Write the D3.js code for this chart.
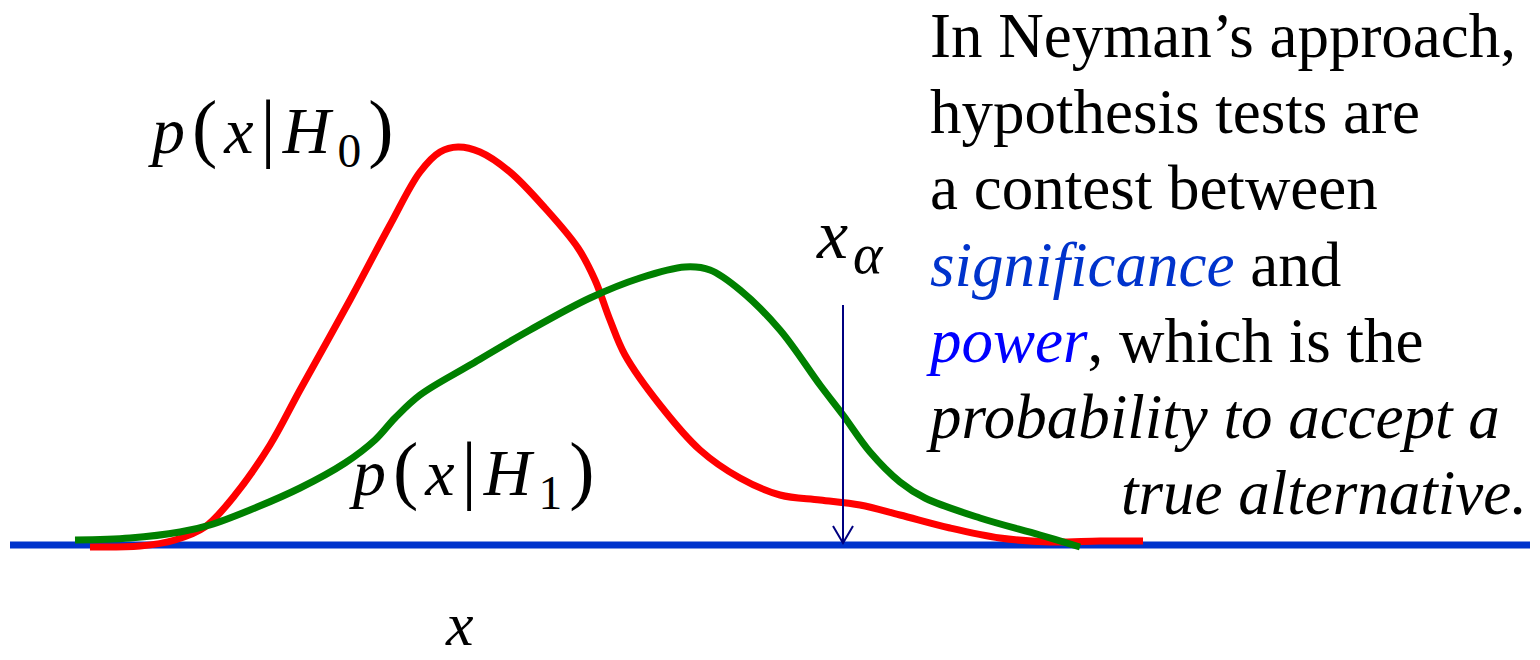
<!DOCTYPE html>
<html>
<head>
<meta charset="utf-8">
<script src="https://cdn.jsdelivr.net/npm/d3@7"></script>
<style>
  body { margin: 0; background: #fff; }
  svg { display: block; }
</style>
</head>
<body>
<svg id="drawing_region"></svg>
<script>
// p(x|H0) and p(x|H1) (x in arbitrary units, density in %)
const h0_x = [8, 13, 16.5, 19.5, 22.5, 26, 29, 34, 38, 41, 43, 44.8, 47, 50, 53.5, 56.8, 58.5, 60, 61.5, 65, 69, 73, 77, 81, 85, 89, 94, 99, 104, 109, 113.3];
const h0_y = [-0.5, -0.25, 1.25, 4.5, 12.5, 25, 38.75, 61.25, 80, 93.25, 98.25, 99.5, 98.25, 93.25, 84.25, 74.25, 66.25, 56.25, 47.5, 35, 23.75, 16.75, 12.5, 11.25, 10, 7.5, 4.25, 1.75, 0.75, 1, 1];

const h1_x = [6.5, 12, 17, 20, 24, 29, 33.5, 36.5, 38.5, 41, 46, 52, 58, 63, 67.5, 70, 73, 77, 81, 83.3, 86, 89, 91.5, 97, 103, 107];
const h1_y = [1.25, 1.75, 3.25, 5, 8.75, 14.25, 20.5, 26.25, 31.75, 37.5, 45, 53.75, 61.75, 66.75, 69.5, 68.75, 63.75, 53.75, 40, 32.5, 23.25, 15.75, 11.75, 6.75, 2.5, -0.5];

const x_domain = [0, 152];
const y_domain = [0, 100];
const x_alpha = 83.3;
const arrow_top = 60;

const paragraph = [
    [{ t: "In Neyman\u2019s approach," }],
    [{ t: "hypothesis tests are" }],
    [{ t: "a contest between" }],
    [{ t: "significance", i: true, c: "#0033cc" }, { t: " and" }],
    [{ t: "power", i: true, c: "#0000ff" }, { t: ", which is the" }],
    [{ t: "probability to accept a", i: true }],
    [{ t: "true alternative.", i: true, right: true }]
];

const config = {
    parent: '#drawing_region',
    width: 1540,
    height: 660,
    margin: { top: 145, right: 10, bottom: 115, left: 10 }
};

const svg = d3.select(config.parent)
    .attr("width", config.width)
    .attr("height", config.height);

// paragraph
paragraph.forEach((row, i) => {
    const right = row.some(p => p.right);
    const t = svg.append("text")
        .attr("x", right ? 1527 : 930)
        .attr("y", 57 + i * 76.2)
        .attr("font-family", "'Liberation Serif'")
        .attr("font-size", 63)
        .attr("text-anchor", right ? "end" : "start");
    row.forEach(p => {
        const s = t.append("tspan").text(p.t);
        if (p.i) s.attr("font-style", "italic");
        if (p.c) s.attr("fill", p.c);
    });
});

const inner_width = config.width - config.margin.left - config.margin.right;
const inner_height = config.height - config.margin.top - config.margin.bottom;

const chart = svg.append("g")
    .attr("transform", `translate(${config.margin.left}, ${config.margin.top})`);

const xscale = d3.scaleLinear().domain(x_domain).range([0, inner_width]);
const yscale = d3.scaleLinear().domain(y_domain).range([inner_height, 0]);

const line = d3.line()
    .x(d => xscale(d[0]))
    .y(d => yscale(d[1]))
    .curve(d3.curveCatmullRom.alpha(0.5));

// baseline (x axis)
chart.append("line")
    .attr("x1", xscale(x_domain[0]))
    .attr("x2", xscale(x_domain[1]))
    .attr("y1", yscale(0))
    .attr("y2", yscale(0))
    .attr("stroke", "#0033cc")
    .attr("stroke-width", 7);

chart.append("path")
    .datum(d3.zip(h0_x, h0_y))
    .attr("d", line)
    .attr("fill", "none")
    .attr("stroke", "#ff0000")
    .attr("stroke-width", 7);

chart.append("path")
    .datum(d3.zip(h1_x, h1_y))
    .attr("d", line)
    .attr("fill", "none")
    .attr("stroke", "#008000")
    .attr("stroke-width", 7);

// x_alpha arrow
const ax = xscale(x_alpha);
const ay = yscale(0) - 2;
chart.append("line")
    .attr("x1", ax).attr("x2", ax)
    .attr("y1", yscale(arrow_top)).attr("y2", ay)
    .attr("stroke", "#000080")
    .attr("stroke-width", 2);
chart.append("path")
    .attr("d", `M${ax - 10},${ay - 17}L${ax},${ay}L${ax + 10},${ay - 17}`)
    .attr("fill", "none")
    .attr("stroke", "#000080")
    .attr("stroke-width", 2);

// math labels
function mathLabel(x, y, size, spacing, parts) {
    const t = svg.append("text")
        .attr("x", x).attr("y", y)
        .attr("font-family", "'Cambria Math'")
        .attr("font-size", size)
        .attr("letter-spacing", spacing);
    parts.forEach(p => {
        const s = t.append("tspan").text(p.t);
        if (p.i) s.attr("font-style", "italic");
        if (p.size) s.attr("font-size", size * p.size);
        if (p.dy) s.attr("dy", p.dy);
        if (p.f) s.attr("font-family", p.f);
    });
    return t;
}

const condParts = sub => [
    { t: "p", i: true }, { t: "(", size: 1.15 }, { t: "x", i: true }, { t: "|", size: 1.15 },
    { t: "H", i: true }, { t: sub, size: 0.72, dy: 14 }, { t: ")", size: 1.15, dy: -14 }
];

mathLabel(152, 153, 66, 7, condParts("0"));
mathLabel(353, 495, 66, 7, condParts("1"));
mathLabel(817, 258, 70, 5, [
    { t: "x", i: true }, { t: "\u03b1", i: true, size: 0.8, dy: 15, f: "'Liberation Serif'" }
]);
mathLabel(446, 645, 62, 0, [{ t: "x", i: true }]);
</script>
</body>
</html>
